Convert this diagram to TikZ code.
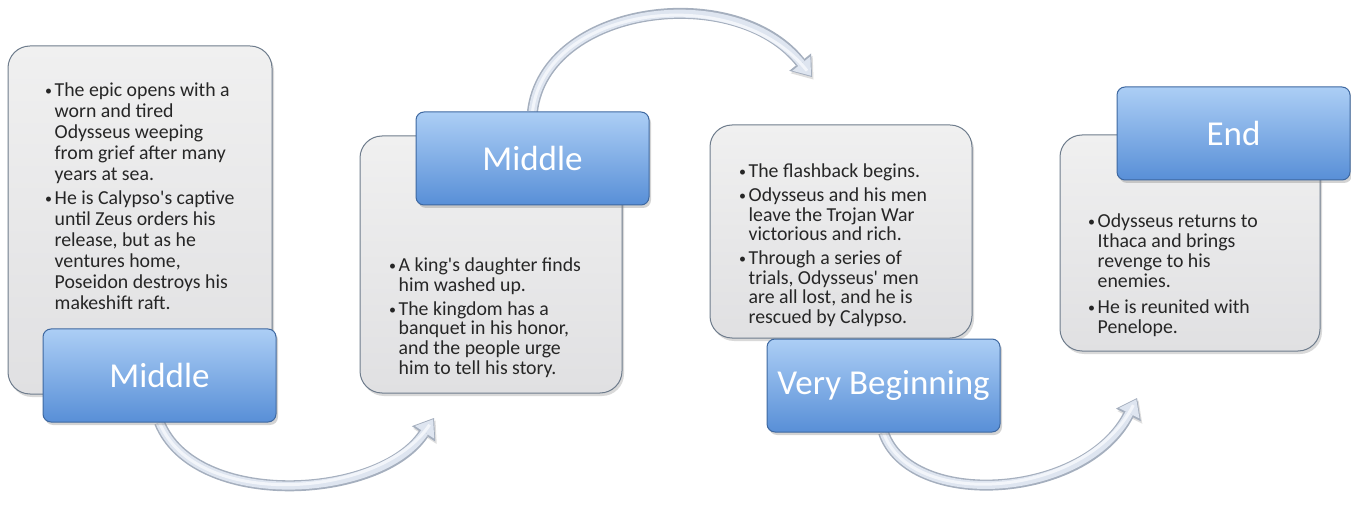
\documentclass[tikz,border=0pt]{standalone}
\usepackage{fontspec}
\setmainfont{Carlito}
\usetikzlibrary{arrows.meta,shadows,backgrounds}
\definecolor{greyfillT}{RGB}{240,240,240}
\definecolor{greyfillB}{RGB}{224,224,226}
\definecolor{greyedge}{RGB}{110,124,140}
\definecolor{blueT}{RGB}{172,206,245}
\definecolor{blueB}{RGB}{88,143,215}
\definecolor{blueedge}{RGB}{62,104,160}
\definecolor{bodytext}{RGB}{38,38,38}
\definecolor{arredge}{RGB}{165,175,190}
\definecolor{arrfill}{RGB}{222,229,240}
\definecolor{arrlight}{RGB}{242,245,250}
\newcommand{\bul}{\makebox[9.5pt][l]{\raisebox{1pt}{\fontsize{14}{14}\selectfont •}}}
\newcommand{\ap}{\textquotesingle}
\tikzset{
  greybox/.style={rectangle, rounded corners=22pt, draw=greyedge, line width=1pt,
    top color=greyfillT, bottom color=greyfillB, inner sep=0pt,
    drop shadow={opacity=0.3, shadow xshift=2pt, shadow yshift=-3pt}},
  bluebox/.style={rectangle, rounded corners=8pt, draw=blueedge, line width=1pt,
    top color=blueT, bottom color=blueB, text=white, inner sep=0pt,
    font=\fontsize{35}{40}\selectfont, minimum width=233pt, minimum height=93pt,
    drop shadow={opacity=0.35, shadow xshift=2pt, shadow yshift=-3pt}},
  body/.style={anchor=base west, inner sep=0pt, text=bodytext},
  flowarrow/.style={line width=11pt, draw=arredge,
    -{Triangle[width=28pt,length=19pt,line width=0pt]},
    preaction={draw=black, opacity=0.13, transform canvas={shift={(1.5pt,-2.5pt)}}},
    postaction={draw=arrfill, line width=8pt, shorten >=1.6pt,
      -{Triangle[width=23pt,length=15.5pt,line width=0pt]}},
    postaction={draw=arrlight, line width=3pt, shorten >=8pt, -}}
}
\begin{document}
\begin{tikzpicture}[x=1pt,y=-1pt]
\useasboundingbox (0,0) rectangle (1351,510);
% content boxes
\node[greybox, minimum width=264pt, minimum height=348pt] (g1) at (140,220) {};
\node[greybox, minimum width=262pt, minimum height=257pt] (g2) at (491,264.5) {};
\node[greybox, minimum width=262pt, minimum height=213pt] (g3) at (841,231.5) {};
\node[greybox, minimum width=260pt, minimum height=216pt] (g4) at (1190,243) {};
% titles
\node[bluebox] (b1) at (159.5,375.5) {Middle};
\node[bluebox] (b2) at (532.5,158.5) {Middle};
\node[bluebox] (b3) at (883.5,385.5) {Very Beginning};
\node[bluebox] (b4) at (1233.5,133.5) {End};
% texts
\node[body] (t1) at (45,97) {\fontsize{19.8}{20.9}\selectfont
\begin{tabular}[t]{@{}l@{}l@{}}
\bul & The epic opens with a\\
 & worn and tired\\
 & Odysseus weeping\\
 & from grief after many\\
 & years at sea.\\[3.5pt]
\bul & He is Calypso\ap s captive\\
 & until Zeus orders his\\
 & release, but as he\\
 & ventures home,\\
 & Poseidon destroys his\\
 & makeshift raft.
\end{tabular}};
\node[body] (t2) at (389,272) {\fontsize{19.8}{19.8}\selectfont
\begin{tabular}[t]{@{}l@{}l@{}}
\bul & A king\ap s daughter finds\\
 & him washed up.\\[3.5pt]
\bul & The kingdom has a\\
 & banquet in his honor,\\
 & and the people urge\\
 & him to tell his story.
\end{tabular}};
\node[body] (t3) at (739,178) {\fontsize{19.8}{19.6}\selectfont
\begin{tabular}[t]{@{}l@{}l@{}}
\bul & The flashback begins.\\[4pt]
\bul & Odysseus and his men\\
 & leave the Trojan War\\
 & victorious and rich.\\[4pt]
\bul & Through a series of\\
 & trials, Odysseus\ap{} men\\
 & are all lost, and he is\\
 & rescued by Calypso.
\end{tabular}};
\node[body] (t4) at (1088,228) {\fontsize{19.8}{20}\selectfont
\begin{tabular}[t]{@{}l@{}l@{}}
\bul & Odysseus returns to\\
 & Ithaca and brings\\
 & revenge to his\\
 & enemies.\\[6pt]
\bul & He is reunited with\\
 & Penelope.
\end{tabular}};
% arrows
\coordinate (e1) at (434,418);
\coordinate (e2) at (812,77);
\coordinate (e3) at (1137,398);
\begin{pgfonlayer}{background}
\draw[flowarrow] (b1.south) .. controls (195,510) and (380,500) .. (e1);
\draw[flowarrow] (b2.north) .. controls (545,5) and (735,-20) .. (e2);
\draw[flowarrow] (b3.south) .. controls (910,510) and (1085,500) .. (e3);
\end{pgfonlayer}
\end{tikzpicture}
\end{document}
